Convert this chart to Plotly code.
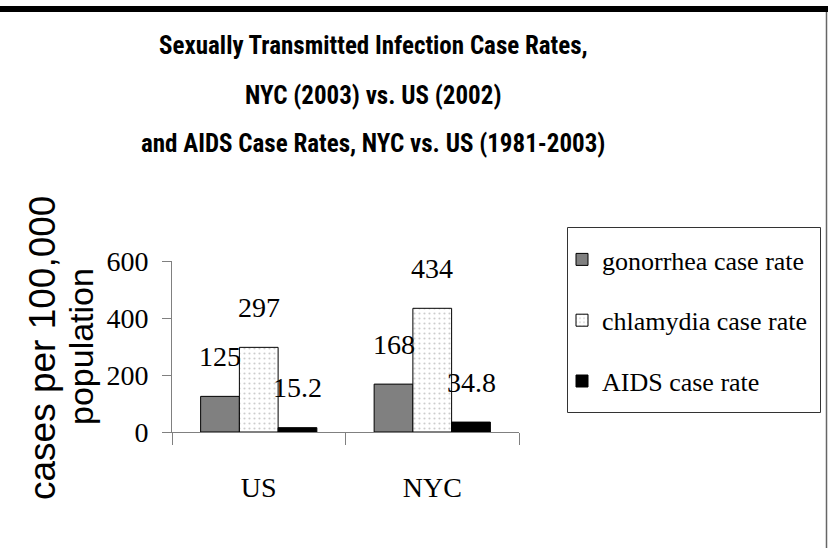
import plotly.graph_objects as go

# ---- data ----
categories = ["US", "NYC"]
series_names = ["gonorrhea case rate", "chlamydia case rate", "AIDS case rate"]
gonorrhea = [125, 168]
chlamydia = [297, 434]
aids = [15.2, 34.8]
value_labels = {
    "gonorrhea case rate": ["125", "168"],
    "chlamydia case rate": ["297", "434"],
    "AIDS case rate": ["15.2", "34.8"],
}
y_ticks = [0, 200, 400, 600]
title_lines = [
    "Sexually Transmitted Infection Case Rates,",
    "NYC (2003) vs. US (2002)",
    "and AIDS Case Rates, NYC vs. US (1981-2003)",
]
y_title_lines = ["cases per 100,000", "population"]

W, H = 828, 548
ML, MR, MT, MB = 172, 309, 261, 116
PW = W - ML - MR
PH = H - MT - MB
BARGAP = 0.33


def px_x(px):
    return (px - ML) / PW


def px_y(py):
    return (H - MB - py) / PH


SERIF = "Liberation Serif, Times New Roman, serif"
SANS = "Liberation Sans, Arial, sans-serif"
NARROW = "Liberation Sans Narrow, Arial Narrow, Noto Sans Condensed, Roboto Condensed, Liberation Sans, Arial, sans-serif"

fig = go.Figure()
fig.add_trace(go.Bar(
    name=series_names[0], x=categories, y=gonorrhea,
    marker=dict(color="#808080", line=dict(color="black", width=1)),
    legendgroup="g1",
))
fig.add_trace(go.Bar(
    name=series_names[1], x=categories, y=chlamydia,
    marker=dict(color="white", line=dict(color="black", width=1),
                pattern=dict(shape=".", fgcolor="#9a9a9a", bgcolor="white",
                             size=5, solidity=0.15)),
    legendgroup="g2",
))
fig.add_trace(go.Bar(
    name=series_names[2], x=categories, y=aids,
    marker=dict(color="black", line=dict(color="black", width=1)),
    legendgroup="g3",
))

# value labels above each bar
group_w = 1 - BARGAP
bw = group_w / len(series_names)
annotations = []
for k, (name, vals) in enumerate(zip(series_names, [gonorrhea, chlamydia, aids])):
    for i, v in enumerate(vals):
        annotations.append(dict(
            x=i + (k - 1) * bw, y=v, xref="x", yref="y",
            text=value_labels[name][i], showarrow=False,
            yshift=40, xanchor="center", yanchor="middle",
            font=dict(family=SERIF, size=28, color="black"),
        ))

# title lines
title_y = [45, 95, 143]
for t, yy in zip(title_lines, title_y):
    annotations.append(dict(
        x=px_x(373), y=px_y(yy), xref="paper", yref="paper",
        text="<b>" + t + "</b>", showarrow=False,
        xanchor="center", yanchor="middle",
        font=dict(family=NARROW, size=25, color="black"),
    ))

# y-axis title (two lines)
annotations.append(dict(
    x=px_x(42), y=px_y(348), xref="paper", yref="paper",
    text=y_title_lines[0], showarrow=False, textangle=-90,
    xanchor="center", yanchor="middle",
    font=dict(family=SANS, size=37, color="black"),
))
annotations.append(dict(
    x=px_x(81), y=px_y(347), xref="paper", yref="paper",
    text=y_title_lines[1], showarrow=False, textangle=-90,
    xanchor="center", yanchor="middle",
    font=dict(family=SANS, size=34, color="black"),
))

shapes = [
    # thick black band at top
    dict(type="rect", xref="paper", yref="paper",
         x0=px_x(0), x1=px_x(W), y0=px_y(12), y1=px_y(6),
         fillcolor="black", line=dict(width=0), layer="above"),
    # right frame line
    dict(type="line", xref="paper", yref="paper",
         x0=px_x(826.5), x1=px_x(826.5), y0=px_y(12), y1=px_y(H),
         line=dict(color="#666666", width=1.5)),
    # legend frame
    dict(type="rect", xref="paper", yref="paper",
         x0=px_x(567.5), x1=px_x(820.5), y0=px_y(412.5), y1=px_y(227.5),
         fillcolor="white", line=dict(color="#333333", width=1), layer="below"),
]

fig.update_layout(
    width=W, height=H,
    margin=dict(l=ML, r=MR, t=MT, b=MB, autoexpand=False),
    paper_bgcolor="white", plot_bgcolor="white",
    barmode="group", bargap=BARGAP, bargroupgap=0,
    showlegend=True,
    legend=dict(
        x=px_x(562), y=px_y(236), xanchor="left", yanchor="top",
        borderwidth=0, bgcolor="rgba(0,0,0,0)",
        font=dict(family=SERIF, size=26, color="black"),
        tracegroupgap=24, traceorder="grouped",
        itemwidth=30,
    ),
    annotations=annotations,
    shapes=shapes,
    xaxis=dict(
        type="category", showline=True, linecolor="#808080", linewidth=1,
        ticks="outside", tickson="boundaries", ticklen=12, tickcolor="#808080",
        tickfont=dict(family=SERIF, size=28, color="black"),
        ticklabelstandoff=30, showgrid=False, zeroline=False,
    ),
    yaxis=dict(
        range=[0, 600], tickvals=y_ticks, showline=True, linecolor="#808080",
        linewidth=1, ticks="outside", ticklen=9, tickcolor="#808080",
        tickfont=dict(family=SERIF, size=28, color="black"),
        ticklabelstandoff=8, showgrid=False, zeroline=False,
    ),
)

fig.write_html("out.html", config={"displayModeBar": False},
               post_script="document.body.style.margin='0';")
